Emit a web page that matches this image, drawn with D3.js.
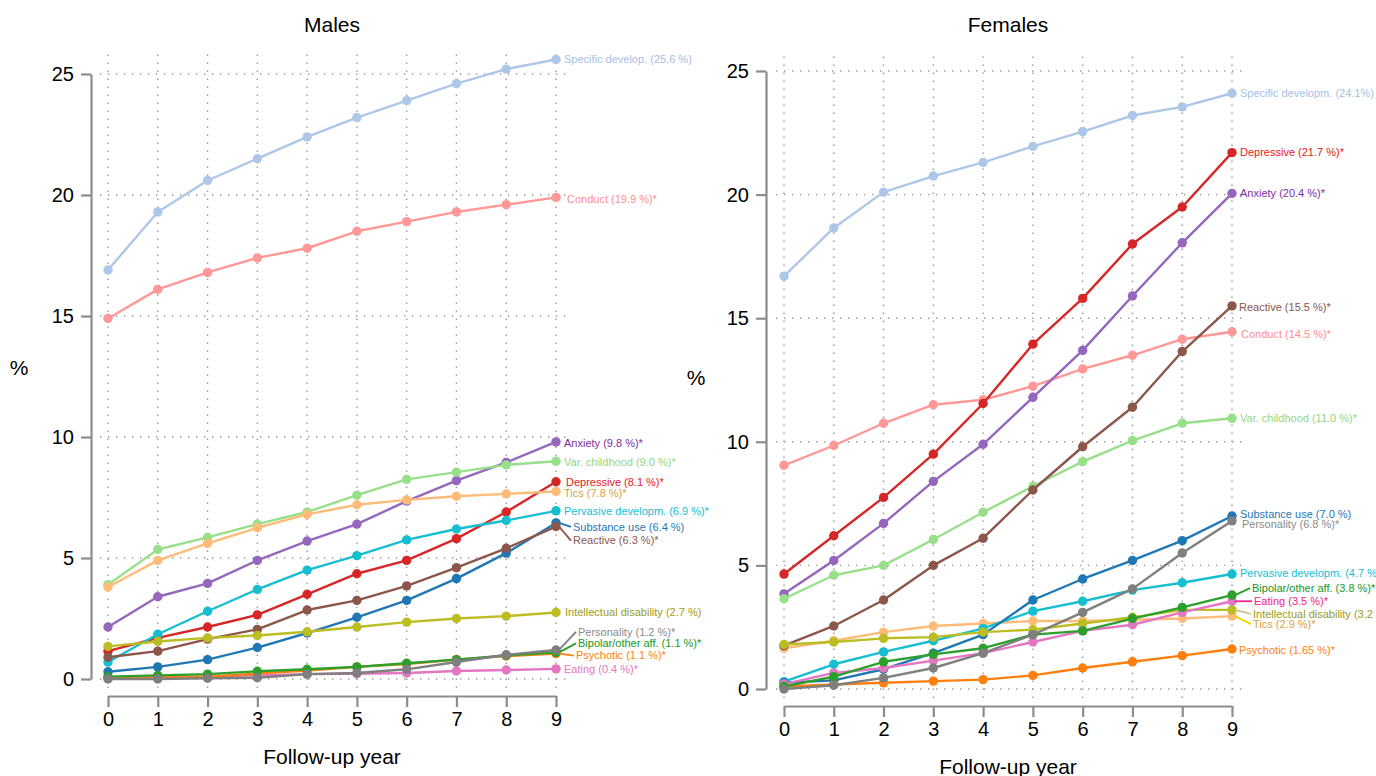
<!DOCTYPE html>
<html>
<head>
<meta charset="utf-8">
<script src="https://cdn.jsdelivr.net/npm/d3@7"></script>
<style>
  body { margin: 0; background: #fff; }
  svg { font-family: "Liberation Sans", Arial, Helvetica, sans-serif; }
</style>
</head>
<body>
<svg id="chart" width="1376" height="776"></svg>
<script>
// years of follow-up
const years = [0, 1, 2, 3, 4, 5, 6, 7, 8, 9];
const yTicks = [0, 5, 10, 15, 20, 25];

// series keys in drawing order
const categories = ["specific", "conduct", "anxiety", "varChild", "depressive", "tics", "pervasive",
  "substance", "reactive", "intellectual", "eating", "psychotic", "bipolar", "personality"];

// Males, cumulative %
const maleSpecific     = [16.9, 19.3, 20.6, 21.5, 22.4, 23.2, 23.9, 24.6, 25.2, 25.6];
const maleConduct      = [14.9, 16.1, 16.8, 17.4, 17.8, 18.5, 18.9, 19.3, 19.6, 19.9];
const maleAnxiety      = [2.15, 3.4, 3.95, 4.9, 5.7, 6.4, 7.35, 8.2, 8.95, 9.8];
const maleVarChild     = [3.9, 5.35, 5.85, 6.4, 6.9, 7.6, 8.25, 8.55, 8.85, 9.0];
const maleDepressive   = [1.15, 1.7, 2.15, 2.65, 3.5, 4.35, 4.9, 5.8, 6.9, 8.15];
const maleTics         = [3.8, 4.9, 5.6, 6.25, 6.8, 7.2, 7.4, 7.55, 7.65, 7.75];
const malePervasive    = [0.7, 1.85, 2.8, 3.7, 4.5, 5.1, 5.75, 6.2, 6.55, 6.95];
const maleSubstance    = [0.3, 0.5, 0.8, 1.3, 1.9, 2.55, 3.25, 4.15, 5.2, 6.45];
const maleReactive     = [0.9, 1.15, 1.65, 2.05, 2.85, 3.25, 3.85, 4.6, 5.4, 6.3];
const maleIntellectual = [1.35, 1.55, 1.7, 1.8, 1.95, 2.15, 2.35, 2.5, 2.6, 2.75];
const maleEating       = [0.05, 0.08, 0.1, 0.15, 0.2, 0.22, 0.25, 0.33, 0.37, 0.42];
const malePsychotic    = [0.03, 0.06, 0.1, 0.22, 0.35, 0.5, 0.62, 0.8, 0.95, 1.05];
const maleBipolar      = [0.1, 0.15, 0.2, 0.32, 0.4, 0.5, 0.65, 0.8, 0.97, 1.1];
const malePersonality  = [0.0, 0.0, 0.03, 0.05, 0.2, 0.25, 0.4, 0.7, 1.0, 1.2];

// Females, cumulative %
const femaleSpecific     = [16.7, 18.65, 20.1, 20.75, 21.3, 21.95, 22.55, 23.2, 23.55, 24.1];
const femaleConduct      = [9.05, 9.85, 10.75, 11.5, 11.7, 12.25, 12.95, 13.5, 14.15, 14.45];
const femaleAnxiety      = [3.85, 5.2, 6.7, 8.4, 9.9, 11.8, 13.7, 15.9, 18.05, 20.05];
const femaleVarChild     = [3.65, 4.6, 5.0, 6.05, 7.15, 8.2, 9.2, 10.05, 10.75, 10.95];
const femaleDepressive   = [4.65, 6.2, 7.75, 9.5, 11.55, 13.95, 15.8, 18.0, 19.5, 21.7];
const femaleTics         = [1.65, 1.95, 2.3, 2.55, 2.65, 2.75, 2.75, 2.8, 2.85, 2.95];
const femalePervasive    = [0.3, 1.0, 1.5, 1.95, 2.45, 3.15, 3.55, 4.0, 4.3, 4.65];
const femaleSubstance    = [0.25, 0.35, 0.8, 1.45, 2.2, 3.6, 4.45, 5.2, 6.0, 7.0];
const femaleReactive     = [1.75, 2.55, 3.6, 5.0, 6.1, 8.05, 9.8, 11.4, 13.65, 15.5];
const femaleIntellectual = [1.8, 1.9, 2.05, 2.1, 2.3, 2.4, 2.65, 2.9, 3.2, 3.2];
const femaleEating       = [0.2, 0.65, 0.85, 1.15, 1.45, 1.9, 2.35, 2.6, 3.1, 3.55];
const femalePsychotic    = [0.1, 0.18, 0.25, 0.32, 0.38, 0.55, 0.85, 1.1, 1.35, 1.62];
const femaleBipolar      = [0.1, 0.5, 1.1, 1.4, 1.65, 2.2, 2.35, 2.85, 3.3, 3.8];
const femalePersonality  = [0.0, 0.15, 0.45, 0.85, 1.45, 2.2, 3.1, 4.05, 5.5, 6.8];

// end labels
const maleLabels = ["Specific develop. (25.6 %)", "Conduct (19.9 %)*", "Anxiety (9.8 %)*", "Var. childhood (9.0 %)*",
  "Depressive (8.1 %)*", "Tics (7.8 %)*", "Pervasive developm. (6.9 %)*", "Substance use (6.4 %)", "Reactive (6.3 %)*",
  "Intellectual disability (2.7 %)", "Eating (0.4 %)*", "Psychotic (1.1 %)*", "Bipolar/other aff. (1.1 %)*", "Personality (1.2 %)*"];
const femaleLabels = ["Specific developm. (24.1%)", "Conduct (14.5 %)*", "Anxiety (20.4 %)*", "Var. childhood (11.0 %)*",
  "Depressive (21.7 %)*", "Tics (2.9 %)*", "Pervasive developm. (4.7 %)", "Substance use (7.0 %)", "Reactive (15.5 %)*",
  "Intellectual disability (3.2 %)", "Eating (3.5 %)*", "Psychotic (1.65 %)*", "Bipolar/other aff. (3.8 %)*", "Personality (6.8 %)*"];

const maleData = [maleSpecific, maleConduct, maleAnxiety, maleVarChild, maleDepressive, maleTics, malePervasive,
  maleSubstance, maleReactive, maleIntellectual, maleEating, malePsychotic, maleBipolar, malePersonality];
const femaleData = [femaleSpecific, femaleConduct, femaleAnxiety, femaleVarChild, femaleDepressive, femaleTics, femalePervasive,
  femaleSubstance, femaleReactive, femaleIntellectual, femaleEating, femalePsychotic, femaleBipolar, femalePersonality];

// styling
const lineColors = {
  specific: "#aec7e8", conduct: "#ff9896", anxiety: "#9467bd", varChild: "#98df8a", depressive: "#d62728",
  tics: "#ffbb78", pervasive: "#17becf", substance: "#1f77b4", reactive: "#8c564b", intellectual: "#bcbd22",
  eating: "#e377c2", psychotic: "#ff7f0e", bipolar: "#2ca02c", personality: "#7f7f7f"
};
const textColors = {
  specific: "#a3c0e6", conduct: "#ff8f8c", anxiety: "#7d2e9c", varChild: "#8fd881", depressive: "#e3171f",
  tics: "#d9a23c", pervasive: "#17becf", substance: "#1f77b4", reactive: "#8c564b", intellectual: "#9c9c16",
  eating: "#e377c2", psychotic: "#ff7f0e", bipolar: "#19961d", personality: "#8a8a8a"
};

// label layout: dy (px from last point), dx (px from x(9)), leader line colour
const maleLayout = {
  specific: { dy: 0, dx: 8 }, conduct: { dy: 2, dx: 11 }, anxiety: { dy: 1, dx: 8 }, varChild: { dy: 1, dx: 8 },
  depressive: { dy: 0, dx: 10 }, tics: { dy: 2, dx: 8 }, pervasive: { dy: 0, dx: 8 },
  substance: { dy: 4, dx: 17, leader: true }, reactive: { dy: 14, dx: 17, leader: true },
  intellectual: { dy: 0, dx: 9 }, eating: { dy: 0, dx: 8 },
  psychotic: { dy: 2, dx: 20, leader: true }, bipolar: { dy: -9, dx: 22, leader: true },
  personality: { dy: -18, dx: 22, leader: true }
};
const femaleLayout = {
  specific: { dy: 0, dx: 8 }, conduct: { dy: 2, dx: 9 }, anxiety: { dy: 0, dx: 8 }, varChild: { dy: 0, dx: 8 },
  depressive: { dy: 0, dx: 8 }, tics: { dy: 8, dx: 21, leader: true, leaderColor: "#f2d400" },
  pervasive: { dy: -1, dx: 8 }, substance: { dy: -2, dx: 8 }, reactive: { dy: 1, dx: 7 },
  intellectual: { dy: 4, dx: 21, leader: true, leaderColor: "#c9c58c" },
  eating: { dy: 0, dx: 22, leader: true, leaderColor: "#f0248a", textColor: "#f0248a" },
  psychotic: { dy: 1, dx: 7 }, bipolar: { dy: -7, dx: 20, leader: true }, personality: { dy: 3, dx: 10 }
};

const svg = d3.select("#chart");
svg.append("rect").attr("width", 1376).attr("height", 776).attr("fill", "#fff");

function drawPanel(cfg) {
  const x = d3.scaleLinear().domain([0, 9]).range([cfg.x0, cfg.x1]);
  const y = d3.scaleLinear().domain([0, 25]).range([cfg.y0, cfg.y25]);
  const g = svg.append("g");

  // dotted grid
  const grid = g.append("g").attr("stroke", "#9a9a9a").attr("stroke-width", 1.4)
    .attr("stroke-dasharray", "1.4,6.6");
  grid.selectAll(".gx").data(years).enter().append("line")
    .attr("x1", d => x(d)).attr("x2", d => x(d))
    .attr("y1", cfg.y0 + 9).attr("y2", cfg.gridTop);
  grid.selectAll(".gy").data(yTicks).enter().append("line")
    .attr("y1", d => y(d)).attr("y2", d => y(d))
    .attr("x1", cfg.x0 - 8).attr("x2", cfg.x1 + 10);

  // axes
  const yAxis = g.append("g")
    .attr("transform", "translate(" + cfg.axisX + ",0)")
    .call(d3.axisLeft(y).tickValues(yTicks).tickSize(10).tickSizeOuter(0).tickPadding(7));
  const xAxis = g.append("g")
    .attr("transform", "translate(0," + cfg.xAxisY + ")")
    .call(d3.axisBottom(x).tickValues(years).tickSize(11).tickSizeOuter(0).tickPadding(5));
  [yAxis, xAxis].forEach(a => {
    a.select(".domain").attr("stroke", "#8c8c8c").attr("stroke-width", 2.2);
    a.selectAll(".tick line").attr("stroke", "#8c8c8c").attr("stroke-width", 2.2);
    a.selectAll("text").attr("fill", "#000").style("font-size", "20px")
      .style("font-family", "'Liberation Sans', Arial, sans-serif");
  });

  // titles
  g.append("text").attr("x", (cfg.x0 + cfg.x1) / 2).attr("y", 32).attr("text-anchor", "middle")
    .style("font-size", "21px").text(cfg.title);
  g.append("text").attr("x", (cfg.x0 + cfg.x1) / 2).attr("y", cfg.xAxisY + 68).attr("text-anchor", "middle")
    .style("font-size", "21px").text("Follow-up year");
  g.append("text").attr("x", cfg.pctX).attr("y", cfg.pctY).attr("text-anchor", "middle")
    .style("font-size", "21px").text("%");

  const line = d3.line().x((d, i) => x(years[i])).y(d => y(d));

  categories.forEach((key, k) => {
    const vals = cfg.data[k];
    const col = lineColors[key];
    const s = g.append("g");
    s.append("path").attr("d", line(vals)).attr("fill", "none")
      .attr("stroke", col).attr("stroke-width", 2.4).attr("stroke-linejoin", "round");
    s.selectAll("circle").data(vals).enter().append("circle")
      .attr("cx", (d, i) => x(years[i])).attr("cy", d => y(d)).attr("r", 4.7).attr("fill", col);
  });

  // end labels on top
  categories.forEach((key, k) => {
    const vals = cfg.data[k];
    const lay = cfg.layout[key];
    const py = y(vals[vals.length - 1]);
    const px = x(9);
    const ly = py + lay.dy;
    const lx = px + lay.dx;
    if (lay.leader) {
      g.append("line").attr("x1", px + 3).attr("y1", py).attr("x2", lx - 2).attr("y2", ly)
        .attr("stroke", lay.leaderColor || lineColors[key]).attr("stroke-width", 1.8);
    }
    g.append("text").attr("x", lx).attr("y", ly).attr("dy", "0.35em")
      .attr("fill", lay.textColor || textColors[key]).style("font-size", "11px")
      .text(cfg.labels[k]);
  });
}

drawPanel({
  title: "Males", data: maleData, labels: maleLabels, layout: maleLayout,
  x0: 108, x1: 556, y0: 679, y25: 74, axisX: 91, xAxisY: 696, gridTop: 48, pctX: 19, pctY: 375
});
drawPanel({
  title: "Females", data: femaleData, labels: femaleLabels, layout: femaleLayout,
  x0: 784, x1: 1232, y0: 689, y25: 71, axisX: 766, xAxisY: 706, gridTop: 52, pctX: 696, pctY: 385
});
</script>
</body>
</html>
